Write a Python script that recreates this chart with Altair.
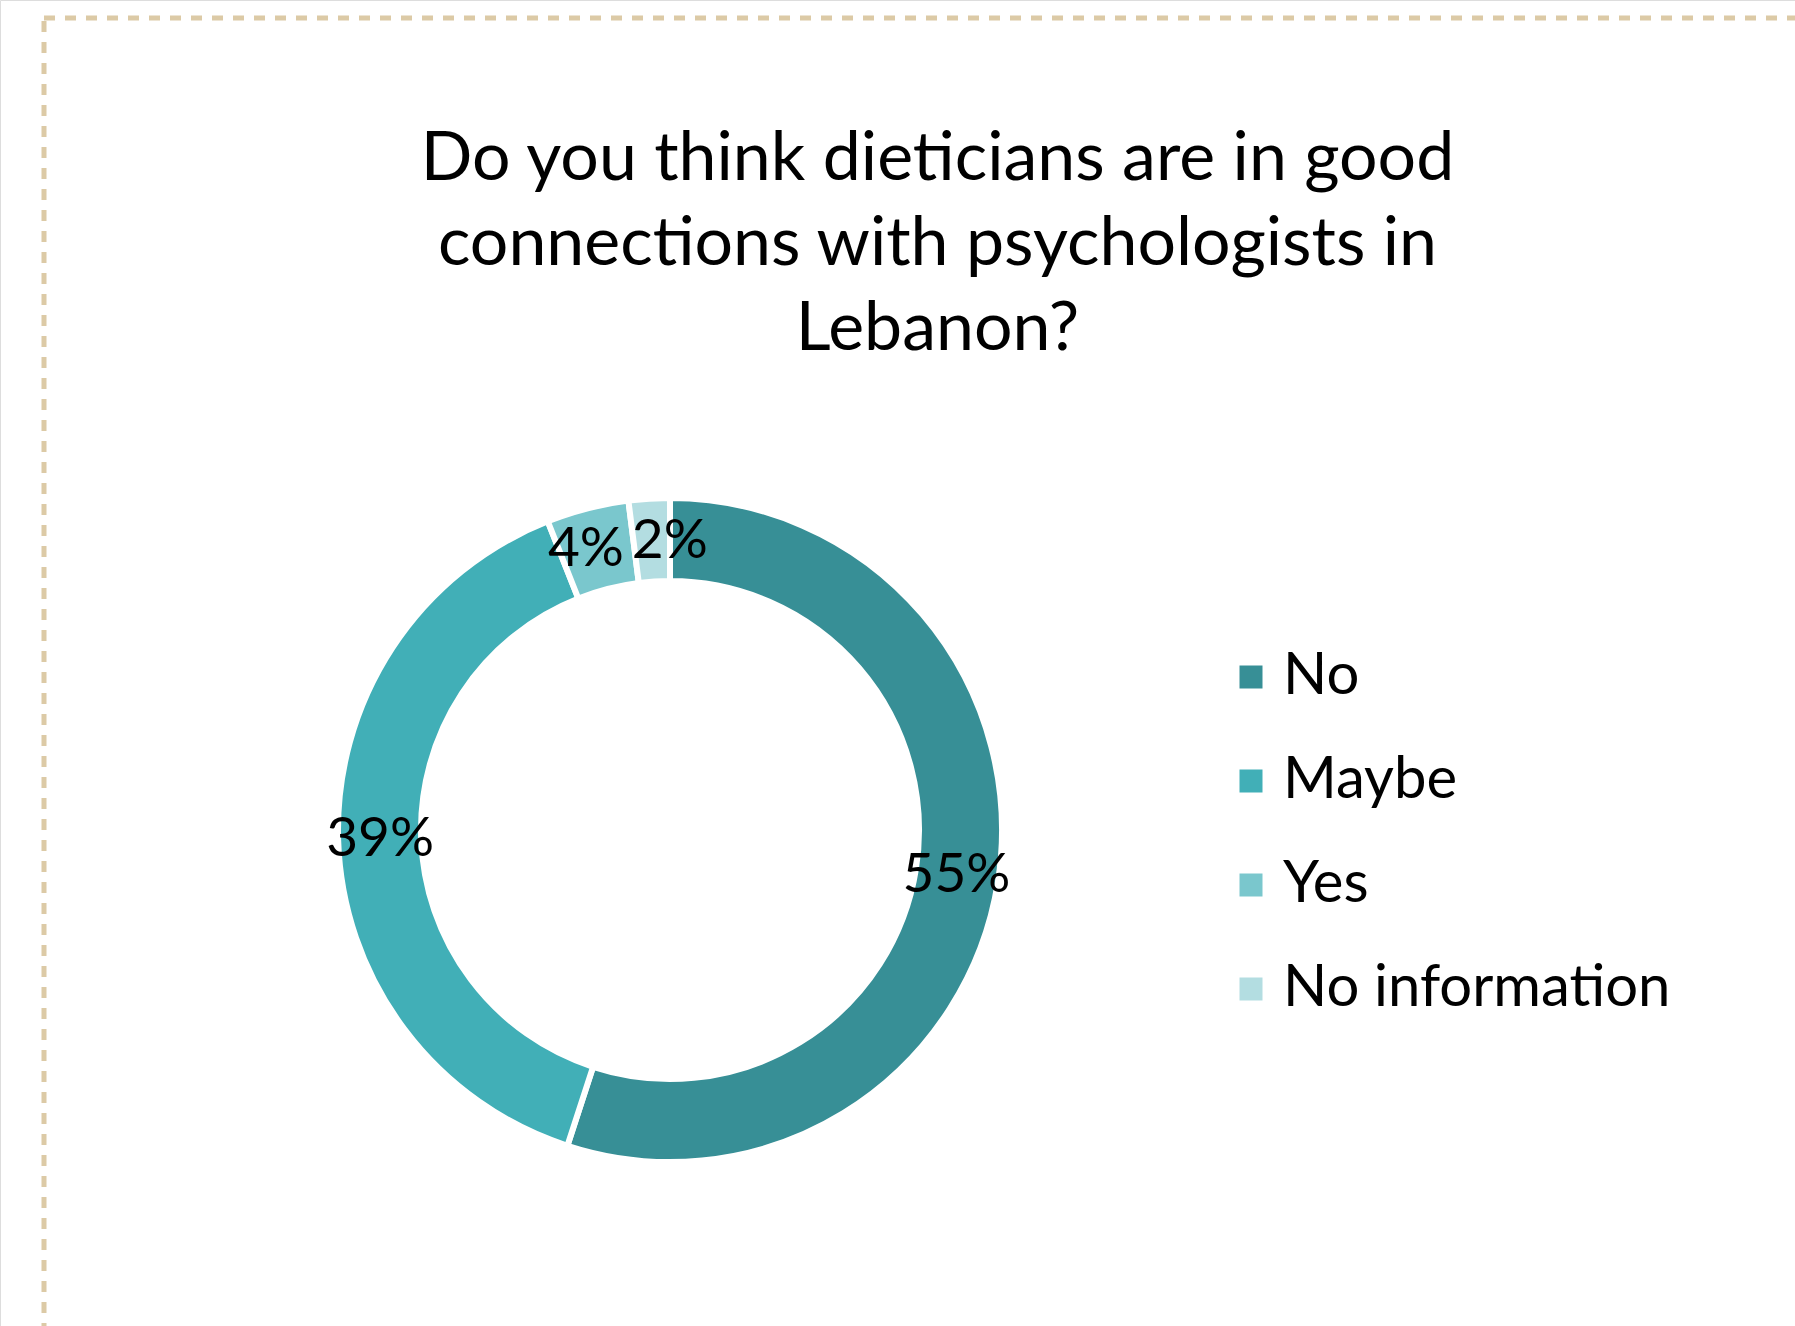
import math
import altair as alt
import pandas as pd

categories = ["No", "Maybe", "Yes", "No information"]
values = [55, 39, 4, 2]
labels = ["55%", "39%", "4%", "2%"]
colors = ["#378f96", "#41afb7", "#7ac7cd", "#b3dde1"]
title_lines = ["Do you think dieticians are in good",
               "connections with psychologists in",
               "Lebanon?"]

df = pd.DataFrame({"category": categories, "value": values,
                   "label": labels, "ord": list(range(len(categories)))})

FONT = "Lato"
CX, CY = 670, 830
theta_scale = alt.Scale(domain=[0, 100], range=[0, 2 * math.pi])

base = alt.Chart(df).transform_window(
    cum="sum(value)", sort=[alt.SortField("ord", order="ascending")]
).transform_calculate(
    start="datum.cum - datum.value",
    mid="datum.cum - datum.value / 2",
)

arc = base.mark_arc(outerRadius=332, innerRadius=249, stroke="white",
                    strokeWidth=6).encode(
    x=alt.value(CX), y=alt.value(CY),
    theta=alt.Theta("start:Q", scale=theta_scale),
    theta2="cum:Q",
    color=alt.Color("category:N",
                    scale=alt.Scale(domain=categories, range=colors),
                    sort=categories,
                    legend=alt.Legend(title=None, orient="none",
                                      legendX=1222, legendY=648,
                                      symbolType="square", symbolSize=529,
                                      symbolStrokeWidth=0,
                                      labelFont=FONT, labelFontSize=58,
                                      labelColor="black", labelOffset=3,
                                      rowPadding=46, padding=0,
                                      labelLimit=600)),
)


def label_layer(cats, dx):
    return base.transform_filter(
        alt.FieldOneOfPredicate(field="category", oneOf=cats)
    ).mark_text(radius=290, font=FONT, fontSize=55, color="black",
                dx=dx).encode(
        x=alt.value(CX), y=alt.value(CY),
        theta=alt.Theta("mid:Q", scale=theta_scale),
        text="label:N",
    )


text_main = label_layer(["No", "Maybe"], 0)
text_yes = label_layer(["Yes"], -12)
text_noinfo = label_layer(["No information"], 18)

border = alt.Chart(pd.DataFrame({"a": [0]})).mark_rect(
    fill="transparent", stroke="#dccaa6", strokeWidth=5,
    strokeDash=[11, 10]).encode(
    x=alt.value(44), y=alt.value(18), x2=alt.value(1950), y2=alt.value(1500))

chart = alt.layer(border, arc, text_main, text_yes, text_noinfo).properties(
    width=1795, height=1326,
    autosize=alt.AutoSizeParams(type="none"),
    padding=0,
    title=alt.TitleParams(text=title_lines, anchor="middle", frame="group",
                          orient="top", offset=0, dx=40, dy=418,
                          baseline="alphabetic", lineHeight=85,
                          font=FONT, fontSize=68, fontWeight="normal",
                          color="black"),
).configure_view(stroke="transparent").configure(background="white")

chart.save("out.html", embed_options={"renderer": "svg", "actions": False})
